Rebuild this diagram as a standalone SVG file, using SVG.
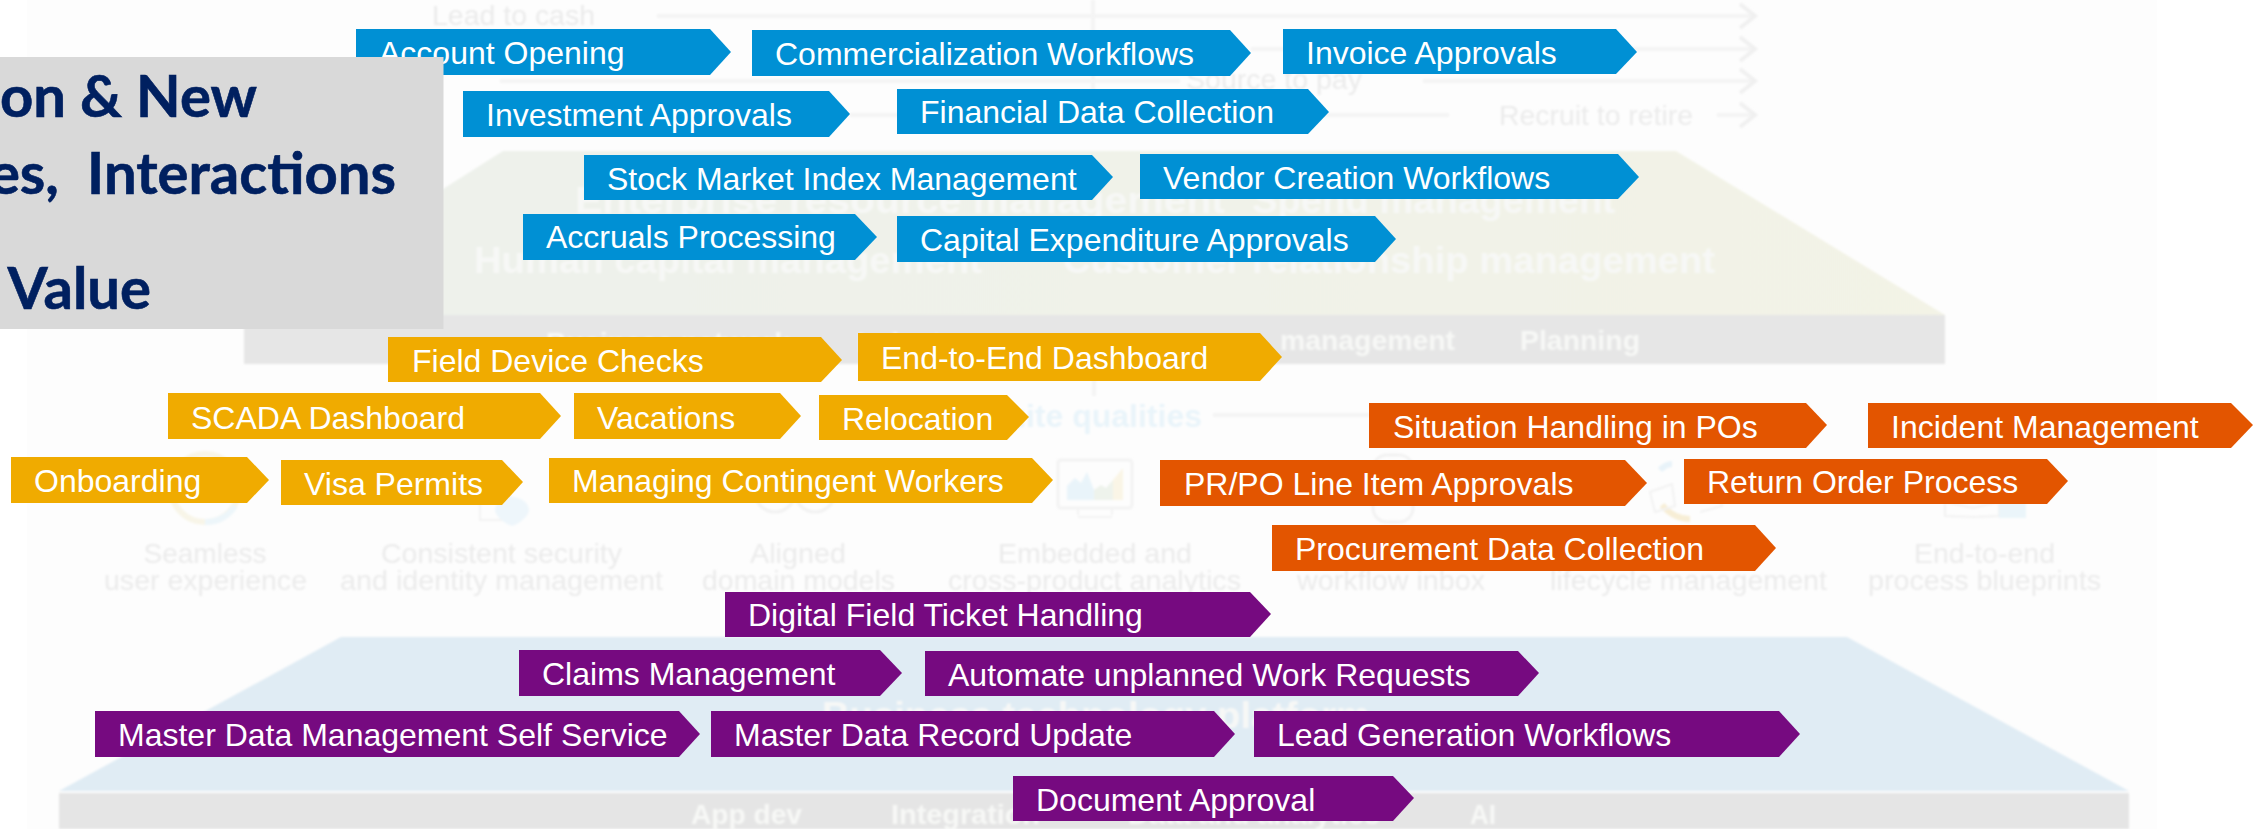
<svg xmlns="http://www.w3.org/2000/svg" width="2253" height="829" viewBox="0 0 2253 829">
<style>
.t{font-family:"Liberation Sans",Arial,sans-serif;font-size:32px;fill:#fff}
.b{fill:#0090d4}.g{fill:#f0ab00}.o{fill:#e35500}.p{fill:#760a80}
.h{font-family:Lato,"Liberation Sans",sans-serif;font-weight:700;font-size:58px;fill:#002060;stroke:#002060;stroke-width:.6;text-anchor:end;white-space:pre}
.f{font-family:"Liberation Sans",Arial,sans-serif;font-size:28px;fill:#ebebeb}
.w{font-family:"Liberation Sans",Arial,sans-serif;font-weight:700;fill:#f7f8f6}
.a{stroke:#f4f4f4;stroke-width:4;fill:none}
.e{stroke:#f0f0f0;stroke-width:4;fill:none}
</style>
<defs>
<filter id="soft" x="-5%" y="-5%" width="110%" height="110%"><feGaussianBlur stdDeviation="1"/></filter>
<linearGradient id="top" x1="0" x2="1" y1="0" y2="0"><stop offset="0" stop-color="#edf1ec"/><stop offset="1" stop-color="#f3f3e6"/></linearGradient>
</defs>
<rect width="2253" height="829" fill="#fff"/>
<rect x="27" width="2130" height="829" fill="#fdfdfd"/>
<g id="backdrop" filter="url(#soft)">
<polygon points="503,151 1676,151 1945,315 244,315" fill="url(#top)"/>
<rect x="244" y="315" width="1701" height="49" fill="#e6e6e6"/>
<polygon points="341,637 1847,637 2129,791 59,791" fill="#e0ecf4"/>
<rect x="59" y="793" width="2070" height="36" fill="#e5e5e5"/>
<text class="w" x="575" y="213" font-size="36" textLength="650" lengthAdjust="spacingAndGlyphs">Enterprise resource management</text>
<text class="w" x="1252" y="213" font-size="36" textLength="363" lengthAdjust="spacingAndGlyphs">Spend management</text>
<text class="w" x="474" y="273" font-size="36" textLength="508" lengthAdjust="spacingAndGlyphs">Human capital management</text>
<text class="w" x="1063" y="273" font-size="36" textLength="652" lengthAdjust="spacingAndGlyphs">Customer relationship management</text>
<text class="w" x="546" y="352" font-size="28" textLength="244" lengthAdjust="spacingAndGlyphs">Business network</text>
<text class="w" x="857" y="352" font-size="28">Industry</text>
<text class="w" x="1280" y="350" font-size="28" textLength="175" lengthAdjust="spacingAndGlyphs">management</text>
<text class="w" x="1520" y="350" font-size="28" textLength="120" lengthAdjust="spacingAndGlyphs">Planning</text>
<text class="w" x="822" y="728" font-size="36" textLength="548" lengthAdjust="spacingAndGlyphs">Business technology platform</text>
<text class="w" x="691" y="824" font-size="28" textLength="111" lengthAdjust="spacingAndGlyphs">App dev</text>
<text class="w" x="891" y="824" font-size="28" textLength="149" lengthAdjust="spacingAndGlyphs">Integration</text>
<text class="w" x="1128" y="824" font-size="28" textLength="252" lengthAdjust="spacingAndGlyphs">Data and analytics</text>
<text class="w" x="1470" y="824" font-size="28" textLength="26" lengthAdjust="spacingAndGlyphs">AI</text>
<text class="f" x="432" y="25" textLength="163" lengthAdjust="spacingAndGlyphs">Lead to cash</text>
<text class="f" x="1186" y="89" textLength="176" lengthAdjust="spacingAndGlyphs">Source to pay</text>
<text class="f" x="1499" y="125" textLength="194" lengthAdjust="spacingAndGlyphs">Recruit to retire</text>
<text x="1202" y="427" text-anchor="end" font-family="'Liberation Sans',Arial,sans-serif" font-weight="700" font-size="32" fill="#e9f4fa">Intelligent suite qualities</text>
<g class="f" font-size="26">
<text x="205" y="563" text-anchor="middle">Seamless</text>
<text x="104" y="590" textLength="203" lengthAdjust="spacingAndGlyphs">user experience</text>
<text x="381" y="563" textLength="241" lengthAdjust="spacingAndGlyphs">Consistent security</text>
<text x="340" y="590" textLength="323" lengthAdjust="spacingAndGlyphs">and identity management</text>
<text x="750" y="563" textLength="96" lengthAdjust="spacingAndGlyphs">Aligned</text>
<text x="702" y="590" textLength="193" lengthAdjust="spacingAndGlyphs">domain models</text>
<text x="998" y="563" textLength="194" lengthAdjust="spacingAndGlyphs">Embedded and</text>
<text x="948" y="590" textLength="293" lengthAdjust="spacingAndGlyphs">cross-product analytics</text>
<text x="1297" y="590" textLength="188" lengthAdjust="spacingAndGlyphs">workflow inbox</text>
<text x="1550" y="590" textLength="277" lengthAdjust="spacingAndGlyphs">lifecycle management</text>
<text x="1914" y="563" textLength="141" lengthAdjust="spacingAndGlyphs">End-to-end</text>
<text x="1868" y="590" textLength="233" lengthAdjust="spacingAndGlyphs">process blueprints</text>
</g>
<circle cx="205" cy="488" r="34" fill="none" stroke="#f8f5e8" stroke-width="6"/>
<path d="M205 522a34 34 0 0 0 30-16" fill="none" stroke="#edf6fa" stroke-width="6"/>
<rect x="480" y="494" width="30" height="26" fill="none" stroke="#f3f3f3" stroke-width="2"/>
<path d="M512 497c10 0 17 7 17 13 0 5-8 13-17 16-9-3-17-11-17-16 0-6 7-13 17-13z" fill="#eef6fb"/>
<circle cx="775" cy="492" r="20" fill="none" stroke="#f2f2f2" stroke-width="3"/>
<circle cx="815" cy="492" r="20" fill="none" stroke="#f2f2f2" stroke-width="3"/>
<rect x="1058" y="460" width="74" height="48" rx="3" fill="none" stroke="#f3f3f3" stroke-width="3"/>
<path d="M1078 508v7M1112 508v7M1078 517h34" stroke="#f3f3f3" stroke-width="2" fill="none"/>
<polygon points="1067,500 1067,486 1075,478 1081,483 1087,472 1094,490 1094,500" fill="#e9f4fa"/>
<polygon points="1094,500 1094,490 1101,485 1106,488 1113,480 1113,500" fill="#eef3ec"/>
<polygon points="1113,500 1113,480 1123,468 1123,500" fill="#faf5e6"/>
<rect x="1373" y="455" width="40" height="67" rx="14" fill="none" stroke="#f2f2f2" stroke-width="3"/>
<path d="M1662 505q12 14 28 14" fill="none" stroke="#f7eed6" stroke-width="6"/>
<path d="M1660 470q6-6 12-6" fill="none" stroke="#e8f3f9" stroke-width="6"/>
<path d="M1650 492l22-8 3 22-20 6zM1700 512l22-6-3-14" fill="none" stroke="#f2f2f2" stroke-width="2"/>
<path d="M1945 502l28 6 26-6v14l-26 1-28-1z" fill="none" stroke="#f2f2f2" stroke-width="2"/>
<rect x="1999" y="496" width="27" height="22" fill="#ebf5fa"/>
</g>
<g id="connectors" filter="url(#soft)">
<path class="a" d="M657 16H1755M1093 0V90M1251 49H1755M500 81H1180M1423 81H1755M850 115H1449M1094 380V396M1213 415H1369M1717 115H1755"/>
<path class="e" d="M1740 4l15 12-15 12M1740 37l15 12-15 12M1740 69l15 12-15 12M1740 103l15 12-15 12"/>
</g>
<g id="n1"><polygon class="b" points="356,29 710,29 731,52 710,75 356,75"/><text class="t" x="379" y="64">Account Opening</text></g>
<g id="title">
<rect y="57" width="443.500" height="272" fill="#d9d9d9"/>
<text class="h" x="257" y="117">on &amp; New</text>
<text class="h" x="396" y="194">es,  Interactions</text>
<text class="h" x="151" y="309">Value</text>
</g>
<g id="n2"><polygon class="b" points="752,30 1230,30 1251,53 1230,76 752,76"/><text class="t" x="775" y="64.500">Commercialization Workflows</text></g>
<g id="n3"><polygon class="b" points="1283,29 1616,29 1637,52 1616,74 1283,74"/><text class="t" x="1306" y="63.500">Invoice Approvals</text></g>
<g id="n4"><polygon class="b" points="463,91 829,91 850,114 829,137 463,137"/><text class="t" x="486" y="125.500">Investment Approvals</text></g>
<g id="n5"><polygon class="b" points="897,89 1308,89 1329,112 1308,134 897,134"/><text class="t" x="920" y="123">Financial Data Collection</text></g>
<g id="n6"><polygon class="b" points="584,155 1092,155 1113,177 1092,200 584,200"/><text class="t" x="607" y="190">Stock Market Index Management</text></g>
<g id="n7"><polygon class="b" points="1140,154 1618,154 1639,177 1618,199 1140,199"/><text class="t" x="1163" y="189">Vendor Creation Workflows</text></g>
<g id="n8"><polygon class="b" points="523,214 855,214 877,237 855,260 523,260"/><text class="t" x="546" y="248">Accruals Processing</text></g>
<g id="n9"><polygon class="b" points="897,216 1375,216 1396,239 1375,262 897,262"/><text class="t" x="920" y="250.500">Capital Expenditure Approvals</text></g>
<g id="n10"><polygon class="g" points="388,337 821,337 842,360 821,382 388,382"/><text class="t" x="412" y="372">Field Device Checks</text></g>
<g id="n11"><polygon class="g" points="858,333 1260,333 1282,357 1260,381 858,381"/><text class="t" x="881" y="369">End-to-End Dashboard</text></g>
<g id="n12"><polygon class="g" points="168,393 540,393 561,416 540,439 168,439"/><text class="t" x="191" y="428.500">SCADA Dashboard</text></g>
<g id="n13"><polygon class="g" points="574,393 780,393 801,416 780,439 574,439"/><text class="t" x="597" y="428.500">Vacations</text></g>
<g id="n14"><polygon class="g" points="819,395 1007,395 1029,417 1007,440 819,440"/><text class="t" x="842" y="429.500">Relocation</text></g>
<g id="n15"><polygon class="g" points="11,457 247,457 269,480 247,503 11,503"/><text class="t" x="34" y="492">Onboarding</text></g>
<g id="n16"><polygon class="g" points="281,460 502,460 523,482 502,505 281,505"/><text class="t" x="304" y="494.500">Visa Permits</text></g>
<g id="n17"><polygon class="g" points="549,458 1032,458 1053,480 1032,503 549,503"/><text class="t" x="572" y="492">Managing Contingent Workers</text></g>
<g id="n18"><polygon class="o" points="1369,403 1806,403 1827,425 1806,448 1369,448"/><text class="t" x="1393" y="438">Situation Handling in POs</text></g>
<g id="n19"><polygon class="o" points="1868,403 2231,403 2253,425 2231,448 1868,448"/><text class="t" x="1891" y="438">Incident Management</text></g>
<g id="n20"><polygon class="o" points="1160,460 1625,460 1647,483 1625,506 1160,506"/><text class="t" x="1184" y="495">PR/PO Line Item Approvals</text></g>
<g id="n21"><polygon class="o" points="1684,459 2047,459 2068,481 2047,504 1684,504"/><text class="t" x="1707" y="493">Return Order Process</text></g>
<g id="n22"><polygon class="o" points="1272,525 1755,525 1776,548 1755,571 1272,571"/><text class="t" x="1295" y="560">Procurement Data Collection</text></g>
<g id="n23"><polygon class="p" points="725,592 1250,592 1271,614 1250,637 725,637"/><text class="t" x="748" y="626">Digital Field Ticket Handling</text></g>
<g id="n24"><polygon class="p" points="519,650 880,650 902,673 880,696 519,696"/><text class="t" x="542" y="684.500">Claims Management</text></g>
<g id="n25"><polygon class="p" points="925,651 1518,651 1539,673 1518,696 925,696"/><text class="t" x="948" y="685.500">Automate unplanned Work Requests</text></g>
<g id="n26"><polygon class="p" points="95,711 679,711 700,734 679,757 95,757"/><text class="t" x="118" y="745.500">Master Data Management Self Service</text></g>
<g id="n27"><polygon class="p" points="711,711 1214,711 1235,734 1214,757 711,757"/><text class="t" x="734" y="745.500">Master Data Record Update</text></g>
<g id="n28"><polygon class="p" points="1254,711 1779,711 1800,734 1779,757 1254,757"/><text class="t" x="1277" y="745.500">Lead Generation Workflows</text></g>
<g id="n29"><polygon class="p" points="1013,776 1393,776 1414,798 1393,821 1013,821"/><text class="t" x="1036" y="811">Document Approval</text></g>
</svg>
